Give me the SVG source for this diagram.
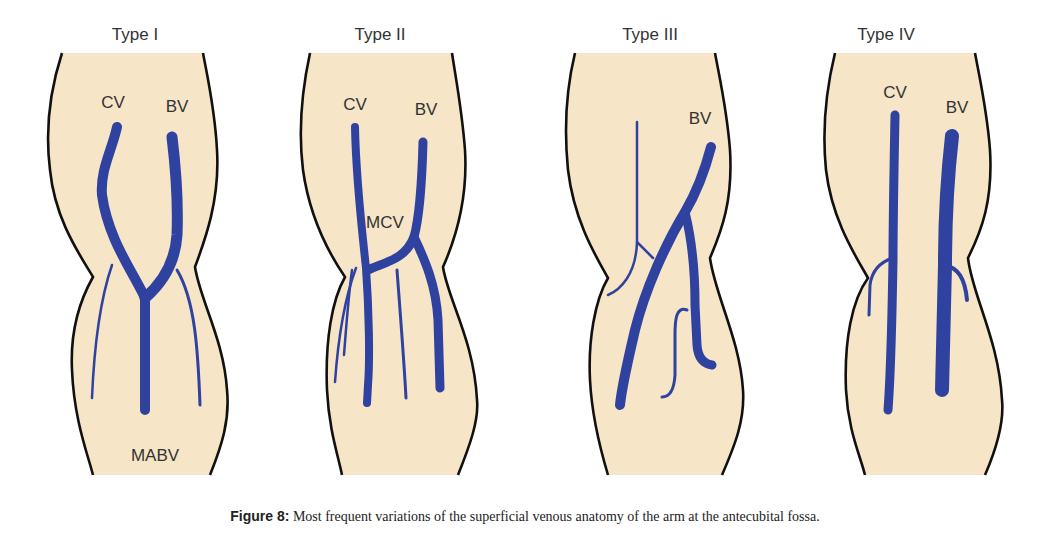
<svg xmlns="http://www.w3.org/2000/svg" width="1050" height="541" viewBox="0 0 1050 541">
<style>
.arm{fill:#f6e5c6;stroke:none}
.edge{fill:none;stroke:#111;stroke-width:2.6}
.v{fill:none;stroke:#2f42a0;stroke-linecap:round;stroke-linejoin:round}
.lbl{font-family:"Liberation Sans",Arial,sans-serif;font-size:17px;fill:#333;text-anchor:middle}
</style>
<rect width="1050" height="541" fill="#fff"/>
<g id="type1">
<path class="arm" d="M62,53 C50,90 45,130 50,170 C55,220 80,255 93,277 C80,300 70,330 72,370 C74,420 88,455 93,475 L210,475 C222,445 230,420 227,390 C224,340 200,300 195,267 C205,240 220,200 217,150 C215,110 208,80 203,53 Z"/>
<path class="edge" d="M62,53 C50,90 45,130 50,170 C55,220 80,255 93,277 C80,300 70,330 72,370 C74,420 88,455 93,475"/>
<path class="edge" d="M203,53 C208,80 215,110 217,150 C220,200 205,240 195,267 C200,300 224,340 227,390 C230,420 222,445 210,475"/>
<path class="v" stroke-width="10" d="M117,127 C112,150 100,170 102,195 C108,240 135,275 145,298 L145,410"/>
<path class="v" stroke-width="11" d="M172,137 C176,170 178,210 177,235 C175,265 160,285 145,298"/>
<path class="v" stroke-width="2.5" d="M112,265 C100,300 94,350 92,398"/>
<path class="v" stroke-width="3" d="M177,270 C195,300 198,350 200,405"/>
<text class="lbl" x="135" y="40">Type I</text>
<text class="lbl" x="113" y="108">CV</text>
<text class="lbl" x="177" y="112">BV</text>
<text class="lbl" x="155" y="461">MABV</text>
</g>
<g id="type2">
<path class="arm" d="M310,53 C302,90 298,130 303,170 C310,220 330,255 345,277 C332,300 325,340 327,390 C329,430 338,455 342,475 L458,475 C470,445 479,420 477,400 C474,340 448,300 443,267 C455,240 468,200 465,150 C462,110 456,80 452,53 Z"/>
<path class="edge" d="M310,53 C302,90 298,130 303,170 C310,220 330,255 345,277 C332,300 325,340 327,390 C329,430 338,455 342,475"/>
<path class="edge" d="M452,53 C456,80 462,110 465,150 C468,200 455,240 443,267 C448,300 474,340 477,400 C479,420 470,445 458,475"/>
<path class="v" stroke-width="8" d="M355,127 C356,180 362,230 366,268 C369,310 370,360 368,385 L367,403"/>
<path class="v" stroke-width="9" d="M423,142 C422,180 420,215 414,237 C425,260 436,285 438,320 L440,388"/>
<path class="v" stroke-width="9" d="M414,237 C405,260 385,262 368,270"/>
<path class="v" stroke-width="2.5" d="M356,268 C344,300 338,340 335,382"/>
<path class="v" stroke-width="2.5" d="M352,270 C348,300 346,330 344,355"/>
<path class="v" stroke-width="3" d="M397,270 C400,310 404,360 406,398"/>
<text class="lbl" x="355" y="110">CV</text>
<text class="lbl" x="426" y="115">BV</text>
<text class="lbl" x="385" y="228">MCV</text>
<text class="lbl" x="380" y="40">Type II</text>
</g>
<g id="type3">
<path class="arm" d="M575,53 C566,90 564,130 568,170 C574,220 595,255 608,278 C595,300 588,340 590,380 C592,420 602,455 608,475 L722,475 C735,445 745,420 743,390 C740,340 715,295 710,258 C722,230 733,200 730,150 C727,110 720,80 715,53 Z"/>
<path class="edge" d="M575,53 C566,90 564,130 568,170 C574,220 595,255 608,278 C595,300 588,340 590,380 C592,420 602,455 608,475"/>
<path class="edge" d="M715,53 C720,80 727,110 730,150 C733,200 722,230 710,258 C715,295 740,340 743,390 C745,420 735,445 722,475"/>
<path class="v" stroke-width="10" d="M711,147 C705,170 695,195 685,212 C665,245 645,290 635,330 C628,360 622,385 620,405"/>
<path class="v" stroke-width="9" d="M685,212 C692,240 695,270 695,305 L697,345 C698,360 706,364 712,365"/>
<path class="v" stroke-width="2.5" d="M637,122 L637,242 L653,258"/>
<path class="v" stroke-width="2.5" d="M637,242 C636,275 620,290 608,295"/>
<path class="v" stroke-width="3" d="M687,310 C676,306 675,320 675,335 L675,375 C674,392 668,397 662,397"/>
<text class="lbl" x="700" y="124">BV</text>
<text class="lbl" x="650" y="40">Type III</text>
</g>
<g id="type4">
<path class="arm" d="M835,53 C826,90 822,130 826,170 C832,220 855,255 868,278 C852,300 844,340 846,390 C848,430 860,455 865,475 L985,475 C998,445 1004,420 1002,400 C999,340 972,295 968,258 C982,230 993,200 990,150 C987,110 980,80 975,53 Z"/>
<path class="edge" d="M835,53 C826,90 822,130 826,170 C832,220 855,255 868,278 C852,300 844,340 846,390 C848,430 860,455 865,475"/>
<path class="edge" d="M975,53 C980,80 987,110 990,150 C993,200 982,230 968,258 C972,295 999,340 1002,400 C1004,420 998,445 985,475"/>
<path class="v" stroke-width="9" d="M895,115 C894,170 893,220 893,260 C892,320 891,370 888,410"/>
<path class="v" stroke-width="14" d="M952,136 C947,180 945,230 945,265 C944,310 943,350 942,390"/>
<path class="v" stroke-width="3" d="M893,258 C880,262 872,270 870,285 L869,315"/>
<path class="v" stroke-width="4" d="M945,265 C958,268 965,278 967,300"/>
<text class="lbl" x="895" y="98">CV</text>
<text class="lbl" x="957" y="113">BV</text>
<text class="lbl" x="886" y="40">Type IV</text>
</g>
<text x="525" y="521" text-anchor="middle" font-size="14" fill="#222"><tspan font-family="Liberation Sans,Arial,sans-serif" font-weight="bold">Figure 8:</tspan><tspan font-family="Liberation Serif,Times New Roman,serif"> Most frequent variations of the superficial venous anatomy of the arm at the antecubital fossa.</tspan></text>
</svg>
